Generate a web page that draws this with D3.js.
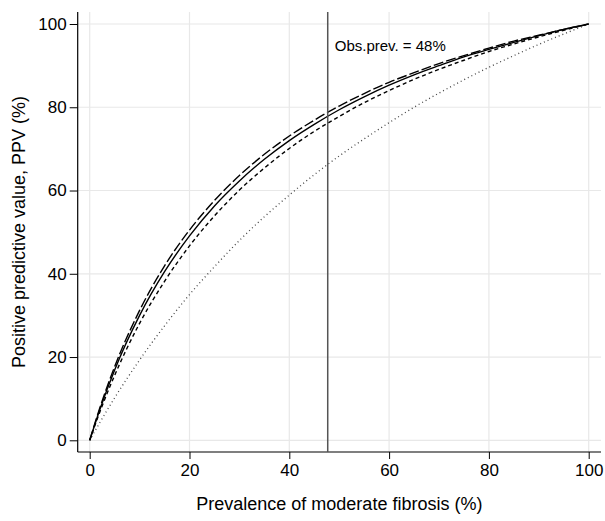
<!DOCTYPE html>
<html>
<head>
<meta charset="utf-8">
<script src="https://cdn.jsdelivr.net/npm/d3@7"></script>
<style>
  body { margin: 0; background: #fff; }
  text { font-family: Arial, "Liberation Sans", sans-serif; fill: #000; }
</style>
</head>
<body>
<script>
var width = 605,
    height = 521;

// prevalence (%) at which the curves were read
var prevalence = [0, 2, 5, 10, 15, 20, 25, 30, 35, 40, 45, 50, 55, 60, 65, 70, 75, 80, 85, 90, 95, 100];
// PPV (%)
var ppvSolid = [0, 7.3, 16.9, 30.0, 40.5, 49.1, 56.3, 62.3, 67.5, 72.0, 75.9, 79.4, 82.5, 85.3, 87.8, 90.0, 92.1, 93.9, 95.6, 97.2, 98.7, 100];
var ppvLongDash = [0, 7.7, 17.7, 31.2, 41.9, 50.5, 57.6, 63.6, 68.7, 73.1, 76.9, 80.3, 83.3, 86.0, 88.3, 90.5, 92.4, 94.2, 95.9, 97.3, 98.7, 100];
var ppvShortDash = [0, 6.7, 15.6, 28.1, 38.2, 46.7, 53.9, 60.1, 65.4, 70.1, 74.2, 77.8, 81.1, 84.0, 86.7, 89.1, 91.3, 93.4, 95.2, 96.9, 98.5, 100];
var ppvDotted = [0, 4.2, 10.2, 19.3, 27.5, 35.0, 41.7, 48.0, 53.7, 58.9, 63.8, 68.3, 72.4, 76.3, 80.0, 83.4, 86.6, 89.6, 92.4, 95.1, 97.6, 100];

var xTicks = [0, 20, 40, 60, 80, 100];
var yTicks = [0, 20, 40, 60, 80, 100];
var obsPrev = 47.7;
var obsLabel = 'Obs.prev. = 48%';
var xTitle = 'Prevalence of moderate fibrosis (%)';
var yTitle = 'Positive predictive value, PPV (%)';

var svg = d3.select('body').append('svg').attr('width', width).attr('height', height);

var x = d3.scaleLinear().domain([0, 100]).range([89.7, 588.7]);
var y = d3.scaleLinear().domain([0, 100]).range([440.3, 24]);

// plot region (window.top is reserved, so own names)
var pLeft = 77.7, pRight = 601, pTop = 12, pBottom = 452;

// grid
svg.append('g').selectAll('line')
    .data(xTicks)
    .enter().append('line')
    .attr('x1', function (d) { return x(d); })
    .attr('x2', function (d) { return x(d); })
    .attr('y1', pTop).attr('y2', pBottom)
    .style('stroke', '#e8e8e8').style('stroke-width', 1.2);
svg.append('g').selectAll('line')
    .data(yTicks)
    .enter().append('line')
    .attr('y1', function (d) { return y(d); })
    .attr('y2', function (d) { return y(d); })
    .attr('x1', pLeft).attr('x2', pRight)
    .style('stroke', '#e8e8e8').style('stroke-width', 1.2);

// axes
var xAxis = svg.append('g')
    .attr('transform', 'translate(0,' + pBottom + ')')
    .call(d3.axisBottom(x).tickValues(xTicks).tickSize(7).tickPadding(5));
var yAxis = svg.append('g')
    .attr('transform', 'translate(' + pLeft + ',0)')
    .call(d3.axisLeft(y).tickValues(yTicks).tickSize(8).tickPadding(3));
[xAxis, yAxis].forEach(function (g) {
    g.select('.domain').remove();
    g.selectAll('.tick line').style('stroke', '#000').style('stroke-width', 1);
    g.selectAll('.tick text').style('font-size', '17px').style('font-family', 'Arial, "Liberation Sans", sans-serif');
});
svg.append('line').attr('x1', pLeft).attr('x2', pRight).attr('y1', pBottom).attr('y2', pBottom)
    .style('stroke', '#000').style('stroke-width', 1.2);
svg.append('line').attr('x1', pLeft).attr('x2', pLeft).attr('y1', pTop).attr('y2', pBottom)
    .style('stroke', '#000').style('stroke-width', 1.2);

// curves
var series = [
    { values: ppvDotted, dash: '1,3', color: '#444', w: 1.3 },
    { values: ppvShortDash, dash: '4,3', color: '#000', w: 1.4 },
    { values: ppvLongDash, dash: '10,3', color: '#000', w: 1.4 },
    { values: ppvSolid, dash: null, color: '#000', w: 1.4 }
];
var line = d3.line()
    .x(function (d) { return x(d[0]); })
    .y(function (d) { return y(d[1]); })
    .curve(d3.curveMonotoneX);
series.forEach(function (s) {
    svg.append('path')
        .datum(prevalence.map(function (p, i) { return [p, s.values[i]]; }))
        .attr('d', line)
        .style('fill', 'none')
        .style('stroke', s.color)
        .style('stroke-width', s.w)
        .style('stroke-dasharray', s.dash);
});

// observed prevalence
svg.append('line')
    .attr('x1', x(obsPrev)).attr('x2', x(obsPrev))
    .attr('y1', pTop).attr('y2', pBottom)
    .style('stroke', '#555').style('stroke-width', 1.5);
svg.append('text')
    .attr('x', x(obsPrev) + 7).attr('y', 51)
    .style('font-size', '15px')
    .text(obsLabel);

// titles
svg.append('text')
    .attr('x', (pLeft + pRight) / 2).attr('y', 510)
    .attr('text-anchor', 'middle')
    .style('font-size', '18px')
    .text(xTitle);
svg.append('text')
    .attr('transform', 'translate(25,' + (pTop + pBottom) / 2 + ') rotate(-90)')
    .attr('text-anchor', 'middle')
    .style('font-size', '18px')
    .text(yTitle);
</script>
</body>
</html>
